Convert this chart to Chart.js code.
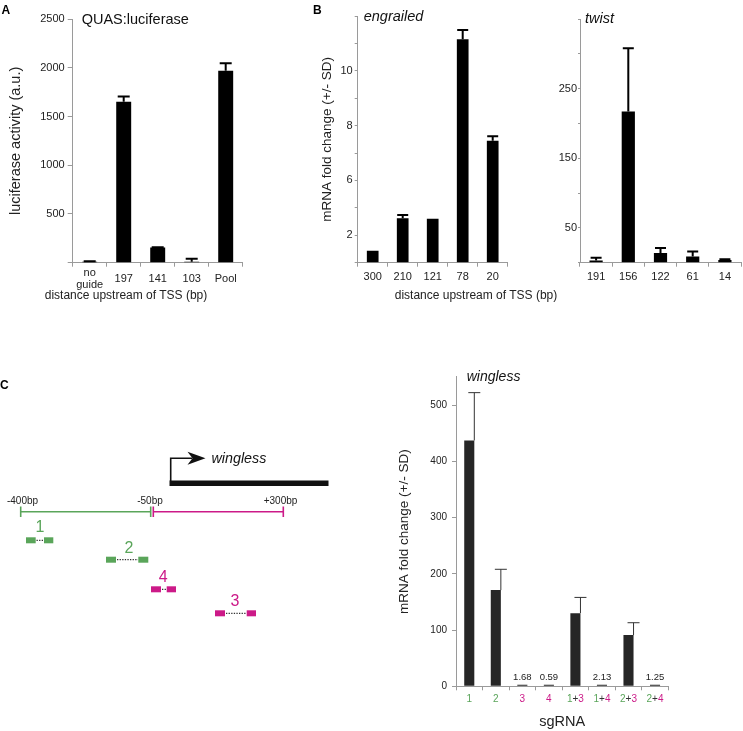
<!DOCTYPE html>
<html><head><meta charset="utf-8">
<script src="https://cdn.jsdelivr.net/npm/chart.js@4.4.1/dist/chart.umd.min.js"></script>
<style>
html,body{margin:0;padding:0;background:#fff;}
body{width:743px;height:731px;position:relative;overflow:hidden;font-family:"Liberation Sans",Arial,sans-serif;}
canvas{position:absolute;}
svg{position:absolute;left:0;top:0;pointer-events:none;}
</style></head><body>
<canvas id="cA" width="250" height="300" style="left:0;top:0"></canvas>
<canvas id="cEn" width="255" height="300" style="left:260px;top:0"></canvas>
<canvas id="cTw" width="213" height="300" style="left:530px;top:0"></canvas>
<canvas id="cC" width="403" height="381" style="left:340px;top:350px"></canvas>
<svg width="743" height="731" font-family="Liberation Sans, Arial, sans-serif">
  <text x="1.5" y="14" font-weight="bold" font-size="12" fill="#000">A</text>
  <text x="313" y="13.5" font-weight="bold" font-size="12" fill="#000">B</text>
  <text x="0" y="388.5" font-weight="bold" font-size="12" fill="#000">C</text>
  <text x="126" y="299" text-anchor="middle" font-size="12" fill="#222">distance upstream of TSS (bp)</text>
  <text x="476" y="299" text-anchor="middle" font-size="12" fill="#222">distance upstream of TSS (bp)</text>
  <!-- gene schematic -->
  <polyline points="170.7,481 170.7,458.3 192,458.3" fill="none" stroke="#111" stroke-width="1.6"/>
  <polygon points="187.5,451.8 205.5,458.3 187.5,464.8 192.5,458.3" fill="#111"/>
  <text x="211.5" y="462.5" font-style="italic" font-size="14.3" fill="#111">wingless</text>
  <rect x="169.5" y="480.5" width="159" height="5.5" fill="#111"/>
  <g stroke="#5aa55a" stroke-width="1.6">
    <line x1="20.7" y1="511.7" x2="150.7" y2="511.7"/>
    <line x1="20.7" y1="506.5" x2="20.7" y2="517"/>
    <line x1="150.7" y1="506.5" x2="150.7" y2="517"/>
  </g>
  <g stroke="#cc1a88" stroke-width="1.6">
    <line x1="153.3" y1="511.7" x2="283.3" y2="511.7"/>
    <line x1="153.3" y1="506.5" x2="153.3" y2="517"/>
    <line x1="283.3" y1="506.5" x2="283.3" y2="517"/>
  </g>
  <g font-size="10" fill="#222" text-anchor="middle">
    <text x="22.5" y="504">-400bp</text>
    <text x="150" y="504">-50bp</text>
    <text x="280.5" y="504">+300bp</text>
  </g>
  <g font-size="16" text-anchor="middle">
    <text x="40" y="531.7" fill="#5aa55a">1</text>
    <text x="129" y="553.3" fill="#5aa55a">2</text>
    <text x="163.3" y="581.7" fill="#cc1a88">4</text>
    <text x="235" y="606" fill="#cc1a88">3</text>
  </g>
  <g fill="#5aa55a">
    <rect x="26" y="537.3" width="9.7" height="6"/><rect x="44" y="537.3" width="9.3" height="6"/>
    <rect x="106" y="556.7" width="10" height="6"/><rect x="138.3" y="556.7" width="10" height="6"/>
  </g>
  <g fill="#cc1a88">
    <rect x="151" y="586.3" width="10" height="6"/><rect x="166.7" y="586.3" width="9.3" height="6"/>
    <rect x="215" y="610.3" width="10" height="6"/><rect x="246.7" y="610.3" width="9.3" height="6"/>
  </g>
  <g stroke="#333" stroke-width="1.3" stroke-dasharray="1.3,1.3">
    <line x1="36.5" y1="540.3" x2="43.5" y2="540.3"/>
    <line x1="117" y1="559.7" x2="138" y2="559.7"/>
    <line x1="162" y1="589.3" x2="166" y2="589.3"/>
    <line x1="226" y1="613.3" x2="246.5" y2="613.3"/>
  </g>
</svg>
<script>
// ---------- DATA ----------
const catA = [['no', 'guide'], '197', '141', '103', 'Pool'];
const valA = [10, 1650, 155, 10, 1970];
const errA = [6, 55, 4, 30, 75];

const catEn = ['300', '210', '121', '78', '20'];
const valEn = [0.88, 3.24, 3.2, 11.15, 7.45];
const errEn = [0, 0.24, 0, 0.34, 0.16];
// engrailed axis: tick marks (in label units, evenly spaced on the figure) and shown labels
const tickValEn = [0, 2, 4, 6, 7, 8, 9, 10, 11, 12];
const tickLblEn = ['', '2', '', '6', '', '8', '', '10', '', ''];

const catTw = ['191', '156', '122', '61', '14'];
const valTw = [3, 217, 14, 9, 4];
const errTw = [4, 91, 7, 7, 1];
const tickLblTw = [50, 150, 250];

const catC = ['1', '2', '3', '4', '1+3', '1+4', '2+3', '2+4'];
const valC = [437, 171, 1.68, 0.59, 130, 2.13, 91, 1.25];
const errC = [85, 37, 0, 0, 28, 0, 22, 0];

// ---------- SETUP ----------
const FONT = '"Liberation Sans", Arial, Helvetica, sans-serif';
Chart.defaults.font.family = FONT;
Chart.defaults.color = '#222';
const AX = '#9a9a9a';
const GREEN = '#5aa55a', MAG = '#cc1a88';

function interp(xs, ys, v) {
  if (v === null || v === undefined) return v;
  const n = xs.length - 1;
  if (v <= xs[0]) return ys[0] + (v - xs[0]) * (ys[1] - ys[0]) / (xs[1] - xs[0]);
  for (let i = 1; i <= n; i++) {
    if (v <= xs[i]) return ys[i - 1] + (v - xs[i - 1]) * (ys[i] - ys[i - 1]) / (xs[i] - xs[i - 1]);
  }
  return ys[n] + (v - xs[n]) * (ys[n] - ys[n - 1]) / (xs[n] - xs[n - 1]);
}
const tickPosEn = tickValEn.map((_, i) => i);

class SteppedScale extends Chart.LinearScale {
  determineDataLimits() { this.min = 0; this.max = tickValEn.length - 1; }
  buildTicks() { return tickValEn.map(v => ({value: v})); }
  getPixelForValue(v) { return super.getPixelForValue(interp(tickValEn, tickPosEn, v)); }
  getValueForPixel(p) { return interp(tickPosEn, tickValEn, super.getValueForPixel(p)); }
}
SteppedScale.id = 'stepped';
SteppedScale.defaults = {};
Chart.register(SteppedScale);

function errPlugin(errs, o) {
  return {
    id: 'errbars',
    afterDatasetsDraw(chart) {
      const ctx = chart.ctx, ys = chart.scales.y, meta = chart.getDatasetMeta(0);
      const vals = chart.data.datasets[0].data;
      ctx.save();
      ctx.strokeStyle = o.color; ctx.lineWidth = o.width; ctx.lineCap = 'butt';
      meta.data.forEach((bar, i) => {
        const e = errs[i];
        if (!e) return;
        const x = o.right ? bar.x + bar.width / 2 : bar.x;
        const y0 = ys.getPixelForValue(vals[i]);
        const y1 = ys.getPixelForValue(vals[i] + e);
        ctx.beginPath();
        ctx.moveTo(x, y0); ctx.lineTo(x, y1);
        ctx.moveTo(x - o.cap, y1); ctx.lineTo(x + o.cap, y1);
        ctx.stroke();
      });
      ctx.restore();
    }
  };
}

function xLabelPlugin(cats, o) {
  return {
    id: 'xlabels',
    afterDraw(chart) {
      const ctx = chart.ctx, xs = chart.scales.x, base = chart.chartArea.bottom;
      ctx.save();
      ctx.font = o.size + 'px ' + FONT;
      ctx.textBaseline = 'middle'; ctx.textAlign = 'left';
      cats.forEach((c, i) => {
        const lines = Array.isArray(c) ? c : [c];
        const cx = xs.getPixelForValue(i);
        lines.forEach((ln, j) => {
          const y = base + o.dy + (j - (lines.length - 1) / 2) * o.lh;
          const parts = o.colorize ? o.colorize(ln) : [[ln, o.color]];
          const total = parts.reduce((s, p) => s + ctx.measureText(p[0]).width, 0);
          let x = cx - total / 2;
          parts.forEach(([t, col]) => { ctx.fillStyle = col; ctx.fillText(t, x, y); x += ctx.measureText(t).width; });
        });
      });
      ctx.restore();
    }
  };
}

function titlePlugin(text, o) {
  return {
    id: 'paneltitle',
    afterDraw(chart) {
      const ctx = chart.ctx;
      ctx.save();
      ctx.font = (o.italic ? 'italic ' : '') + o.size + 'px ' + FONT;
      ctx.fillStyle = '#111'; ctx.textBaseline = 'middle'; ctx.textAlign = 'left';
      ctx.fillText(text, chart.chartArea.left + o.dx, chart.chartArea.top + o.dy);
      ctx.restore();
    }
  };
}

function xAxis(h, tickLen) {
  return {
    grid: {drawOnChartArea: false, drawTicks: true, tickLength: tickLen, color: AX, lineWidth: 1},
    border: {display: true, color: AX, width: 1},
    ticks: {display: false},
    afterFit: s => { s.height = h; }
  };
}
function yGrid(tickLen) {
  return {drawOnChartArea: false, drawTicks: true, tickLength: tickLen, color: AX, lineWidth: 1};
}
const baseOpts = {
  responsive: false, animation: false, events: [],
  plugins: {legend: {display: false}, tooltip: {enabled: false}, title: {display: false}}
};

// ---------- A ----------
new Chart(document.getElementById('cA'), {
  type: 'bar',
  data: {labels: catA, datasets: [{data: valA, backgroundColor: '#000', barPercentage: 0.44, categoryPercentage: 1}]},
  options: Object.assign({}, baseOpts, {
    layout: {padding: {left: 0, right: 7.3, top: 19, bottom: 0}},
    scales: {
      x: xAxis(37.3, 4),
      y: {
        min: 0, max: 2500,
        ticks: {stepSize: 500, font: {size: 11}, color: '#222', padding: 3, callback: v => v === 0 ? '' : String(v)},
        grid: yGrid(5), border: {display: true, color: AX, width: 1},
        title: {display: true, text: 'luciferase activity (a.u.)', font: {size: 14.5}, color: '#222', padding: {top: 7, bottom: 0}},
        afterFit: s => { s.width = 72.7; }
      }
    }
  }),
  plugins: [errPlugin(errA, {color: '#000', width: 2, cap: 6}),
            xLabelPlugin(catA, {size: 11, dy: 16.6, lh: 12, color: '#222'}),
            titlePlugin('QUAS:luciferase', {size: 14.5, dx: 9, dy: 1})]
});

// ---------- B engrailed ----------
new Chart(document.getElementById('cEn'), {
  type: 'bar',
  data: {labels: catEn, datasets: [{data: valEn, backgroundColor: '#000', barPercentage: 0.39, categoryPercentage: 1}]},
  options: Object.assign({}, baseOpts, {
    layout: {padding: {left: 0, right: 7.3, top: 16, bottom: 0}},
    scales: {
      x: xAxis(37.3, 4),
      y: {
        type: 'stepped',
        ticks: {font: {size: 11}, color: '#222', padding: 2, callback: (v, i) => tickLblEn[i]},
        grid: yGrid(3), border: {display: true, color: AX, width: 1},
        title: {display: true, text: 'mRNA fold change (+/- SD)', font: {size: 13.5}, color: '#222', padding: {top: 58.9, bottom: 0}},
        afterFit: s => { s.width = 97.7; }
      }
    }
  }),
  plugins: [errPlugin(errEn, {color: '#000', width: 2, cap: 5.5}),
            xLabelPlugin(catEn, {size: 11, dy: 14, lh: 12, color: '#222'}),
            titlePlugin('engrailed', {size: 14.5, italic: true, dx: 6, dy: 1})]
});

// ---------- B twist ----------
new Chart(document.getElementById('cTw'), {
  type: 'bar',
  data: {labels: catTw, datasets: [{data: valTw, backgroundColor: '#000', barPercentage: 0.41, categoryPercentage: 1}]},
  options: Object.assign({}, baseOpts, {
    layout: {padding: {left: 0, right: 2, top: 19, bottom: 0}},
    scales: {
      x: xAxis(37.3, 4),
      y: {
        min: 0, max: 350,
        ticks: {stepSize: 50, font: {size: 11}, color: '#222', padding: 1, callback: v => tickLblTw.includes(v) ? String(v) : ''},
        grid: yGrid(2), border: {display: true, color: AX, width: 1},
        afterFit: s => { s.width = 50; }
      }
    }
  }),
  plugins: [errPlugin(errTw, {color: '#000', width: 2, cap: 5.5}),
            xLabelPlugin(catTw, {size: 11, dy: 14, lh: 12, color: '#222'}),
            titlePlugin('twist', {size: 14.5, italic: true, dx: 5, dy: 0})]
});

// ---------- C wingless ----------
function colorizeC(s) {
  return s.split('').map(ch => [ch, (ch === '1' || ch === '2') ? GREEN : (ch === '3' || ch === '4') ? MAG : '#333']);
}
const valueLabelPlugin = {
  id: 'vlabels',
  afterDatasetsDraw(chart) {
    const ctx = chart.ctx, meta = chart.getDatasetMeta(0), base = chart.chartArea.bottom;
    ctx.save();
    ctx.font = '9.5px ' + FONT; ctx.fillStyle = '#222'; ctx.textAlign = 'center'; ctx.textBaseline = 'middle';
    valC.forEach((v, i) => { if (v < 5) ctx.fillText(v.toFixed(2), meta.data[i].x, base - 9); });
    ctx.restore();
  }
};
new Chart(document.getElementById('cC'), {
  type: 'bar',
  data: {labels: catC, datasets: [{data: valC, backgroundColor: '#262626', barPercentage: 0.38, categoryPercentage: 1, minBarLength: 1.5}]},
  options: Object.assign({}, baseOpts, {
    layout: {padding: {left: 0, right: 74.7, top: 26.9, bottom: 0}},
    scales: {
      x: Object.assign(xAxis(44.7, 4), {
        title: {display: true, text: 'sgRNA', font: {size: 14.5}, color: '#222', padding: {top: 0, bottom: 0.6}}
      }),
      y: {
        min: 0, max: 550,
        ticks: {stepSize: 100, includeBounds: false, font: {size: 10}, color: '#222', padding: 5, callback: v => String(v)},
        grid: yGrid(4), border: {display: true, color: AX, width: 1},
        title: {display: true, text: 'mRNA fold change (+/- SD)', font: {size: 13.5}, color: '#222', padding: {top: 55.9, bottom: 0}},
        afterFit: s => { s.width = 116; }
      }
    }
  }),
  plugins: [errPlugin(errC, {color: '#333', width: 1, cap: 6, right: true}),
            xLabelPlugin(catC, {size: 10, dy: 13, lh: 12, colorize: colorizeC}),
            valueLabelPlugin,
            titlePlugin('wingless', {size: 14, italic: true, dx: 10.7, dy: 0})]
});
</script>
</body></html>
